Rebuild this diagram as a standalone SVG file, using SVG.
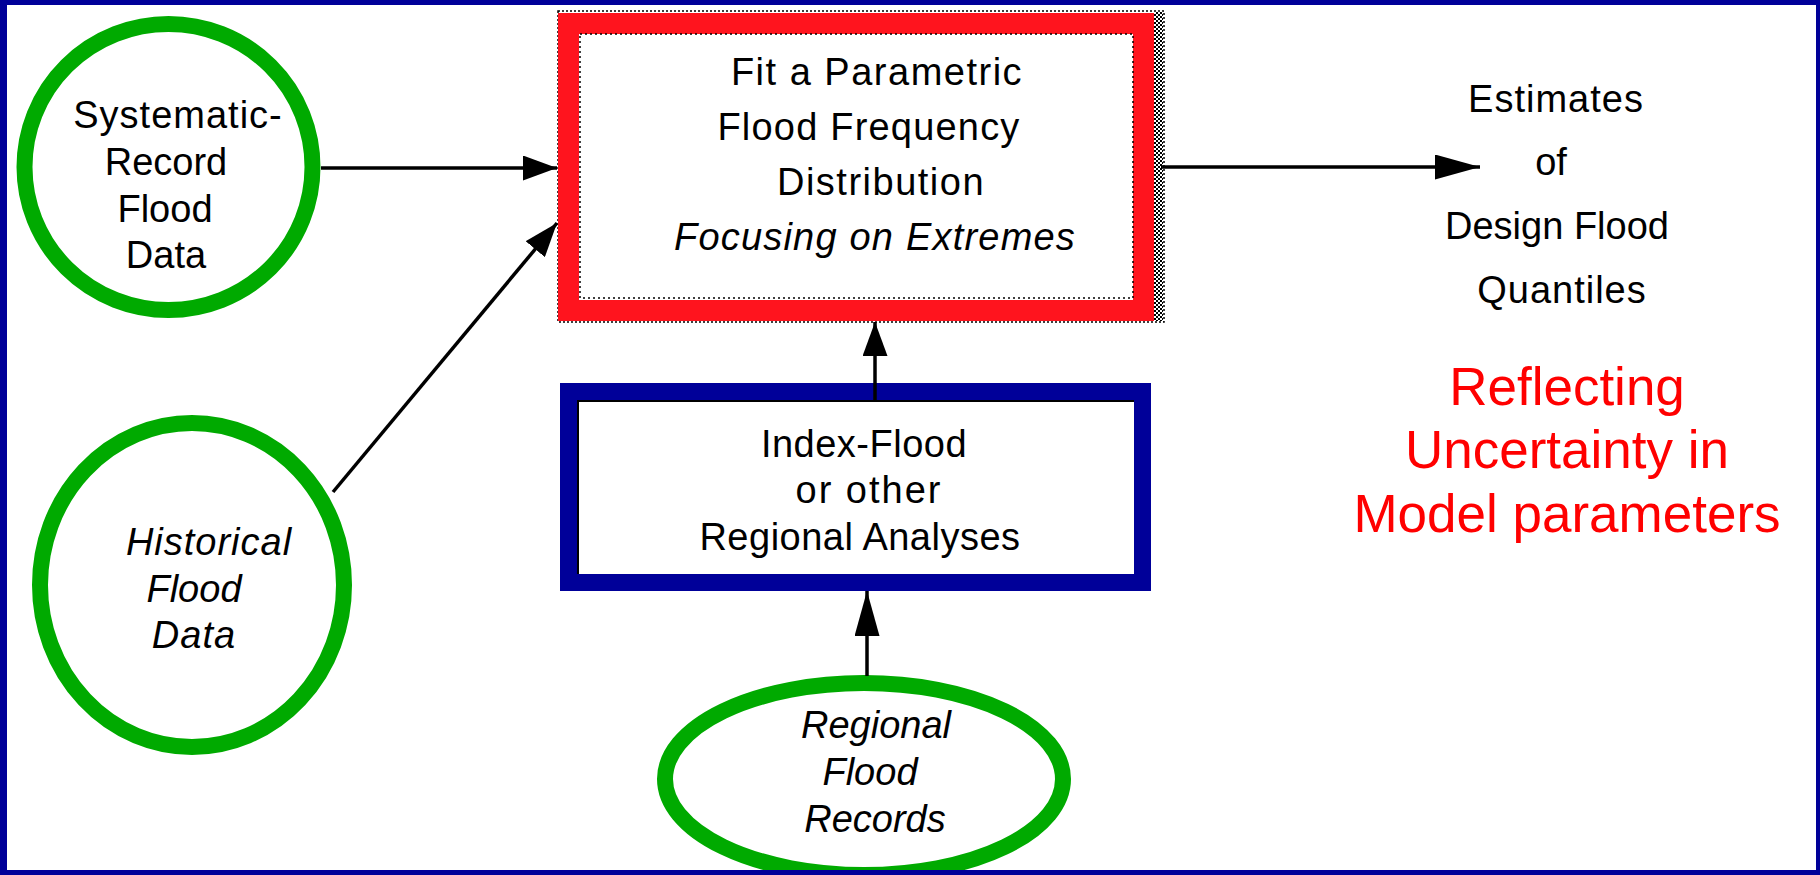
<svg xmlns="http://www.w3.org/2000/svg" width="1820" height="875" viewBox="0 0 1820 875">
<style>
.t{font-family:"Liberation Sans",Arial,sans-serif;font-size:38px;fill:#000;text-anchor:middle}
.i{font-style:italic}
.ring{fill:#fff;stroke:#00aa00;stroke-width:16}
.con{stroke:#000;stroke-width:3.5;fill:none}
.red{font-family:"Liberation Sans",Arial,sans-serif;font-size:53px;fill:#ff0000;text-anchor:middle}
</style>
<defs>
<marker id="ah" markerUnits="userSpaceOnUse" viewBox="0 0 34 25" refX="34" refY="12.5" markerWidth="34" markerHeight="25" orient="auto"><path d="M0,0 L34,12.5 L0,25 Z" fill="#000"/></marker>
<marker id="ahL" markerUnits="userSpaceOnUse" viewBox="0 0 45 25" refX="45" refY="12.5" markerWidth="45" markerHeight="25" orient="auto"><path d="M0,0 L45,12.5 L0,25 Z" fill="#000"/></marker>
<pattern id="chk" width="4" height="4" patternUnits="userSpaceOnUse"><rect width="4" height="4" fill="#fff"/><rect width="2" height="2" fill="#000"/><rect x="2" y="2" width="2" height="2" fill="#000"/></pattern>
</defs>
<rect width="1820" height="875" fill="#fff"/>

<g id="systematic">
<ellipse class="ring" cx="168.5" cy="167" rx="144" ry="143"/>
<text class="t" x="178" y="128" letter-spacing="1">Systematic-</text>
<text class="t" x="166" y="175">Record</text>
<text class="t" x="165" y="222">Flood</text>
<text class="t" x="166" y="268">Data</text>
</g>

<g id="historical">
<ellipse class="ring" cx="192" cy="585" rx="152" ry="162"/>
<text class="t i" x="209" y="555" letter-spacing="1">Historical</text>
<text class="t i" x="194" y="602">Flood</text>
<text class="t i" x="194" y="648" letter-spacing="1">Data</text>
</g>

<g id="fit">
<rect x="558" y="11" width="606" height="311" fill="none" stroke="#000" stroke-width="1.5" stroke-dasharray="2 2"/>
<rect x="1154" y="12" width="9" height="309" fill="url(#chk)"/>
<rect x="568.5" y="23.5" width="575" height="287" fill="#fff" stroke="#ff141e" stroke-width="21"/>
<rect x="580" y="34" width="553" height="264" fill="none" stroke="#000" stroke-width="1.5" stroke-dasharray="2 3"/>
<text class="t" x="877" y="85" letter-spacing="1.5">Fit a Parametric</text>
<text class="t" x="869" y="140" letter-spacing="1.2">Flood Frequency</text>
<text class="t" x="881" y="195" letter-spacing="1.5">Distribution</text>
<text class="t i" x="875" y="250" letter-spacing="1.2">Focusing on Extremes</text>
</g>

<g id="regional-analyses">
<rect x="568.5" y="391.5" width="574" height="191" fill="#fff" stroke="#000099" stroke-width="17"/>
<path d="M578,574 V401 H1134" fill="none" stroke="#000" stroke-width="2"/>
<text class="t" x="864" y="457" letter-spacing="0.5">Index-Flood</text>
<text class="t" x="869" y="503" letter-spacing="2">or other</text>
<text class="t" x="860" y="550" letter-spacing="0.5">Regional Analyses</text>
</g>

<g id="regional-records">
<ellipse class="ring" cx="864" cy="779" rx="199" ry="96"/>
<text class="t i" x="876" y="738">Regional</text>
<text class="t i" x="870" y="785">Flood</text>
<text class="t i" x="875" y="832">Records</text>
</g>

<g id="estimates">
<text class="t" x="1556" y="112" letter-spacing="1">Estimates</text>
<text class="t" x="1551" y="175">of</text>
<text class="t" x="1557" y="239">Design Flood</text>
<text class="t" x="1562" y="303" letter-spacing="1">Quantiles</text>
</g>

<g id="reflecting">
<text class="red" x="1567" y="405">Reflecting</text>
<text class="red" x="1567" y="468">Uncertainty in</text>
<text class="red" x="1567" y="532">Model parameters</text>
</g>

<g id="connectors">
<line class="con" x1="321" y1="168" x2="557" y2="168" marker-end="url(#ah)"/>
<line class="con" x1="333" y1="492" x2="557" y2="223" marker-end="url(#ah)"/>
<line class="con" x1="1161" y1="167" x2="1480" y2="167" marker-end="url(#ahL)"/>
<line class="con" x1="875" y1="402" x2="875" y2="322" marker-end="url(#ah)"/>
<line class="con" x1="867" y1="676" x2="867" y2="591" marker-end="url(#ahL)"/>
</g>

<g id="frame" fill="#000099">
<rect x="0" y="0" width="1820" height="5"/>
<rect x="0" y="870" width="1820" height="5"/>
<rect x="0" y="0" width="7" height="875"/>
<rect x="1816" y="0" width="4" height="875"/>
</g>
</svg>
